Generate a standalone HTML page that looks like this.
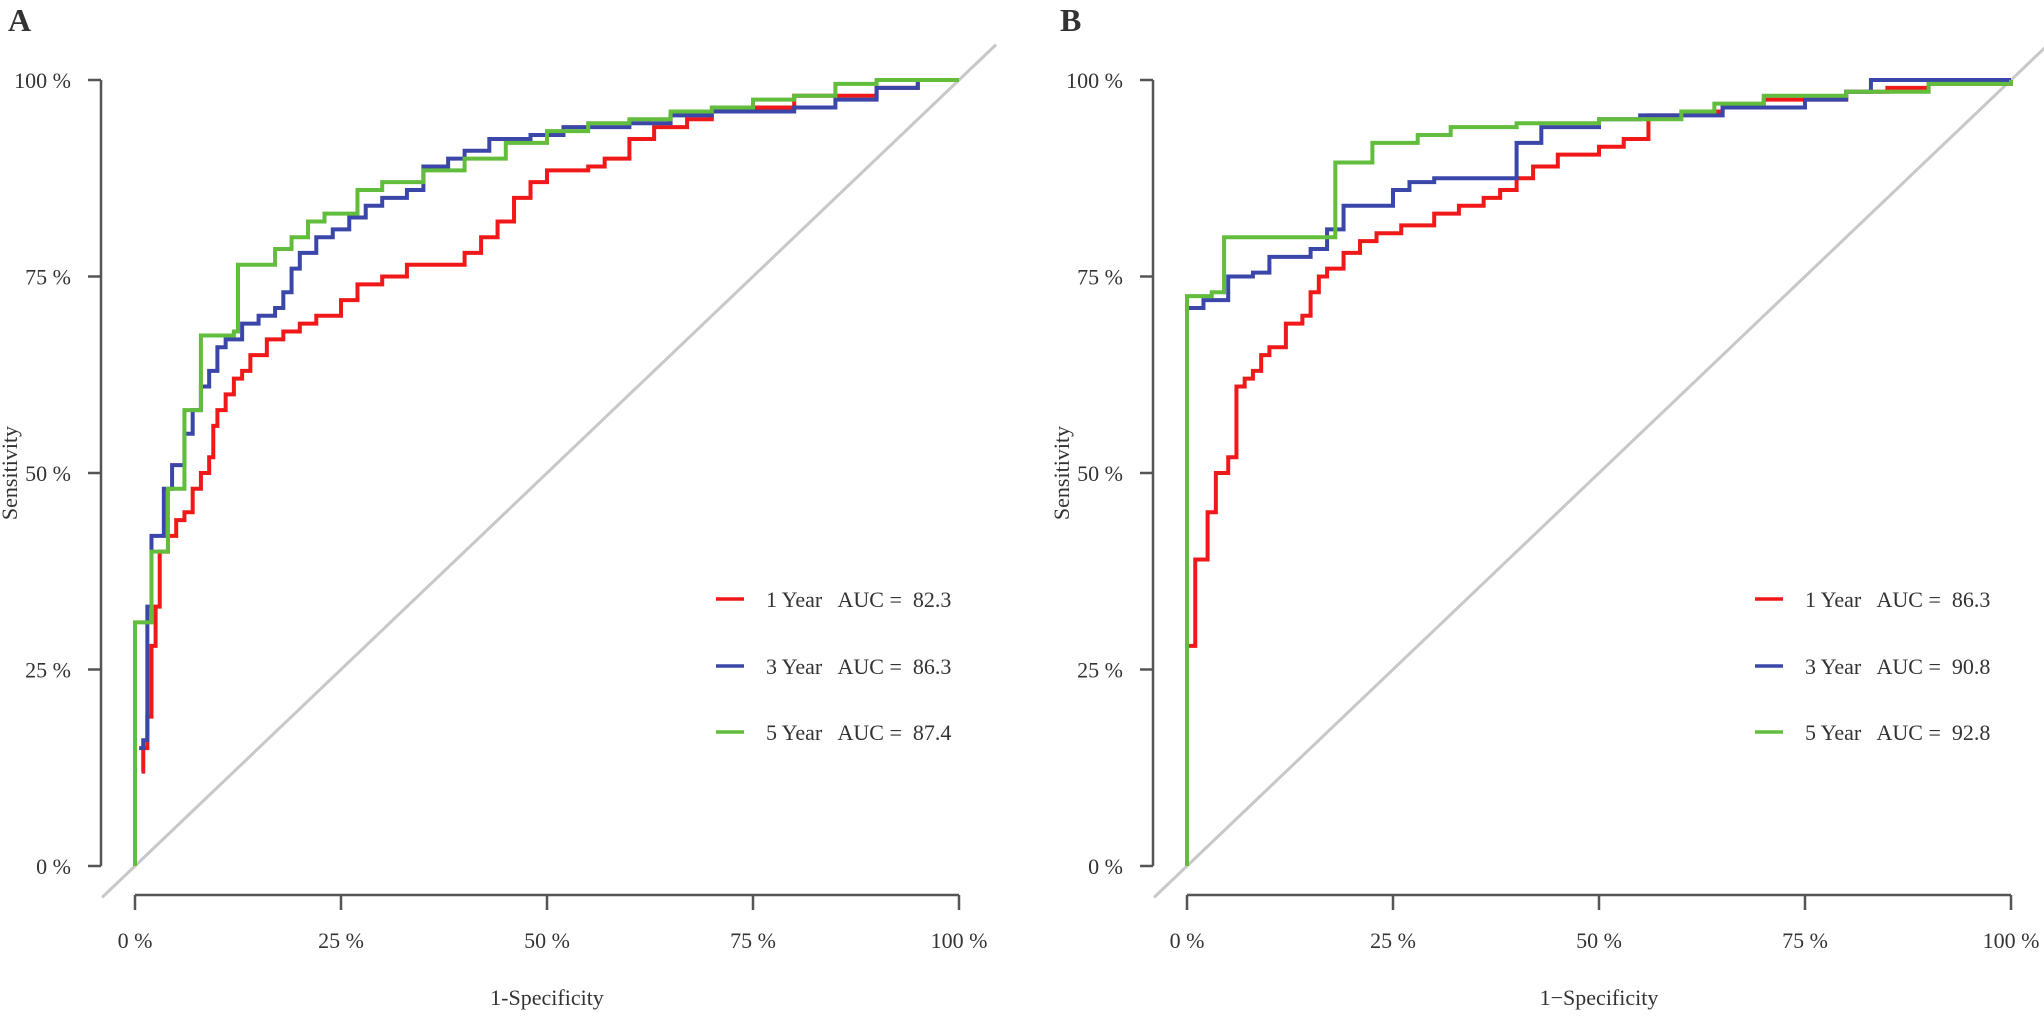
<!DOCTYPE html>
<html><head><meta charset="utf-8"><style>
body{margin:0;background:#fff;}
svg text{font-family:"Liberation Serif",serif;fill:#333;white-space:pre;}
</style></head><body>
<svg id="fig" width="2044" height="1014" viewBox="0 0 2044 1014" xmlns="http://www.w3.org/2000/svg"></svg>
<script>
const ticks=[0,0.25,0.5,0.75,1];
const tickLabels=["0 %","25 %","50 %","75 %","100 %"];
const seriesNames=["1 Year","3 Year","5 Year"];
const aucA=["82.3","86.3","87.4"];
const aucB=["86.3","90.8","92.8"];
const A1x=[0.008,0.01,0.015,0.02,0.025,0.03,0.04,0.05,0.06,0.07,0.08,0.09,0.095,0.1,0.11,0.12,0.13,0.14,0.16,0.18,0.2,0.22,0.25,0.27,0.3,0.33,0.37,0.4,0.42,0.44,0.46,0.48,0.5,0.55,0.57,0.6,0.63,0.67,0.7,0.75,0.8,0.85,0.9,0.95,1];
const A1y=[0.12,0.15,0.19,0.28,0.33,0.40,0.42,0.44,0.45,0.48,0.50,0.52,0.56,0.58,0.60,0.62,0.63,0.65,0.67,0.68,0.69,0.70,0.72,0.74,0.75,0.765,0.765,0.78,0.80,0.82,0.85,0.87,0.885,0.89,0.90,0.925,0.94,0.95,0.96,0.965,0.98,0.98,0.99,1,1];
const A3x=[0.005,0.01,0.015,0.02,0.03,0.035,0.045,0.06,0.07,0.08,0.09,0.1,0.11,0.13,0.15,0.17,0.18,0.19,0.2,0.22,0.24,0.26,0.28,0.3,0.33,0.35,0.38,0.4,0.43,0.48,0.52,0.6,0.65,0.7,0.8,0.85,0.9,0.95,1];
const A3y=[0.15,0.16,0.33,0.42,0.42,0.48,0.51,0.55,0.58,0.61,0.63,0.66,0.67,0.69,0.70,0.71,0.73,0.76,0.78,0.80,0.81,0.825,0.84,0.85,0.86,0.89,0.90,0.91,0.925,0.93,0.94,0.945,0.955,0.96,0.965,0.975,0.99,1,1];
const A5x=[0,0,0.02,0.02,0.04,0.04,0.06,0.06,0.08,0.08,0.12,0.125,0.15,0.17,0.19,0.21,0.23,0.27,0.3,0.35,0.4,0.45,0.5,0.55,0.6,0.65,0.7,0.75,0.8,0.85,0.9,1];
const A5y=[0,0.31,0.32,0.40,0.40,0.48,0.48,0.58,0.58,0.675,0.68,0.765,0.765,0.785,0.80,0.82,0.83,0.86,0.87,0.885,0.90,0.92,0.935,0.945,0.95,0.96,0.965,0.975,0.98,0.995,1,1];
const B1x=[0,0.01,0.01,0.02,0.025,0.035,0.05,0.06,0.07,0.08,0.09,0.1,0.12,0.14,0.15,0.16,0.17,0.19,0.21,0.23,0.26,0.3,0.33,0.36,0.38,0.4,0.42,0.45,0.5,0.53,0.56,0.6,0.65,0.7,0.8,0.85,0.9,1];
const B1y=[0.28,0.29,0.39,0.39,0.45,0.50,0.52,0.61,0.62,0.63,0.65,0.66,0.69,0.70,0.73,0.75,0.76,0.78,0.795,0.805,0.815,0.83,0.84,0.85,0.86,0.875,0.89,0.905,0.915,0.925,0.955,0.96,0.965,0.975,0.985,0.99,0.995,1];
const B3x=[0,0.02,0.05,0.08,0.1,0.15,0.17,0.19,0.25,0.27,0.3,0.4,0.43,0.5,0.55,0.65,0.75,0.8,0.83,0.95,1];
const B3y=[0.71,0.72,0.75,0.755,0.775,0.785,0.81,0.84,0.86,0.87,0.875,0.92,0.94,0.95,0.955,0.965,0.975,0.985,1,1,1];
const B5x=[0,0,0.03,0.045,0.18,0.18,0.22,0.225,0.28,0.32,0.4,0.5,0.6,0.64,0.7,0.8,0.9,1];
const B5y=[0,0.725,0.73,0.80,0.80,0.895,0.895,0.92,0.93,0.94,0.945,0.95,0.96,0.97,0.98,0.985,0.995,1];

const colors=["#f01818","#3a46a8","#62bd3c"];
const NS="http://www.w3.org/2000/svg";
const svg=document.getElementById('fig');
function mk(tag,attrs,parent){const e=document.createElementNS(NS,tag);for(const k in attrs)e.setAttribute(k,attrs[k]);(parent||svg).appendChild(e);return e;}

function panel(letter,axisX,x0,legX,auc,series){
  const g=mk('g',{});
  
  
  const W=824,y0=866,y1=80;
  const sx=v=>x0+v*W, sy=v=>y0-v*(y0-y1);
  const t=mk('text',{x:axisX-93,y:31,'font-size':32,'font-weight':'bold',fill:'#111'},g);t.textContent=letter;
  
  
  const d=mk('line',{x1:sx(-0.04),y1:sy(-0.04),x2:sx(1.045),y2:sy(1.045),stroke:'#c8c8c8','stroke-width':3},g);
  
  
  const ya=mk('path',{d:`M${axisX},${y1}V${y0}`,stroke:'#555','stroke-width':2.5,fill:'none'},g);
  
  
  ticks.forEach((v,i)=>{
    mk('line',{x1:axisX-13,x2:axisX,y1:sy(v),y2:sy(v),stroke:'#555','stroke-width':2.5},g);
    const tl=mk('text',{x:axisX-30,y:sy(v)+8,'font-size':22,'text-anchor':'end'},g);tl.textContent=tickLabels[i];
    
    
  });
  const xa=mk('path',{d:`M${sx(0)},${895}H${sx(1)}`,stroke:'#555','stroke-width':2.5,fill:'none'},g);
  
  
  ticks.forEach((v,i)=>{
    mk('line',{x1:sx(v),x2:sx(v),y1:895,y2:910,stroke:'#555','stroke-width':2.5},g);
    const tl=mk('text',{x:sx(v),y:948,'font-size':22,'text-anchor':'middle'},g);tl.textContent=tickLabels[i];
    
    
  });
  const xt=mk('text',{x:sx(0.5),y:1005,'font-size':22,'text-anchor':'middle'},g);xt.textContent=letter==='A'?'1-Specificity':'1−Specificity';
  
  
  const yt=mk('text',{x:0,y:0,'font-size':22,'text-anchor':'middle',transform:`translate(${axisX-84},${sy(0.5)}) rotate(-90)`},g);yt.textContent='Sensitivity';
  
  
  series.forEach((s,k)=>{
    const xs=s[0],ys=s[1];
    let p=`M${sx(xs[0])},${sy(ys[0])}`;
    for(let i=1;i<xs.length;i++){p+=`H${sx(xs[i])}V${sy(ys[i])}`;}
    const ln=mk('path',{d:p,stroke:colors[k],'stroke-width':4,fill:'none'},g);
    
    
  });
  const legY=[599,666,732];
  series.forEach((s,k)=>{
    const le=mk('g',{},g);
    
    
    mk('line',{x1:legX,x2:legX+28,y1:legY[k],y2:legY[k],stroke:colors[k],'stroke-width':3.5},le);
    const tx=mk('text',{x:legX+50,y:legY[k]+8,'font-size':22},le);
    tx.textContent=seriesNames[k]+'   AUC =  '+auc[k];
  });
}
panel('A',101,135,716,aucA,[[A1x,A1y],[A3x,A3y],[A5x,A5y]]);
panel('B',1153,1187,1755,aucB,[[B1x,B1y],[B3x,B3y],[B5x,B5y]]);
</script>
</body></html>
